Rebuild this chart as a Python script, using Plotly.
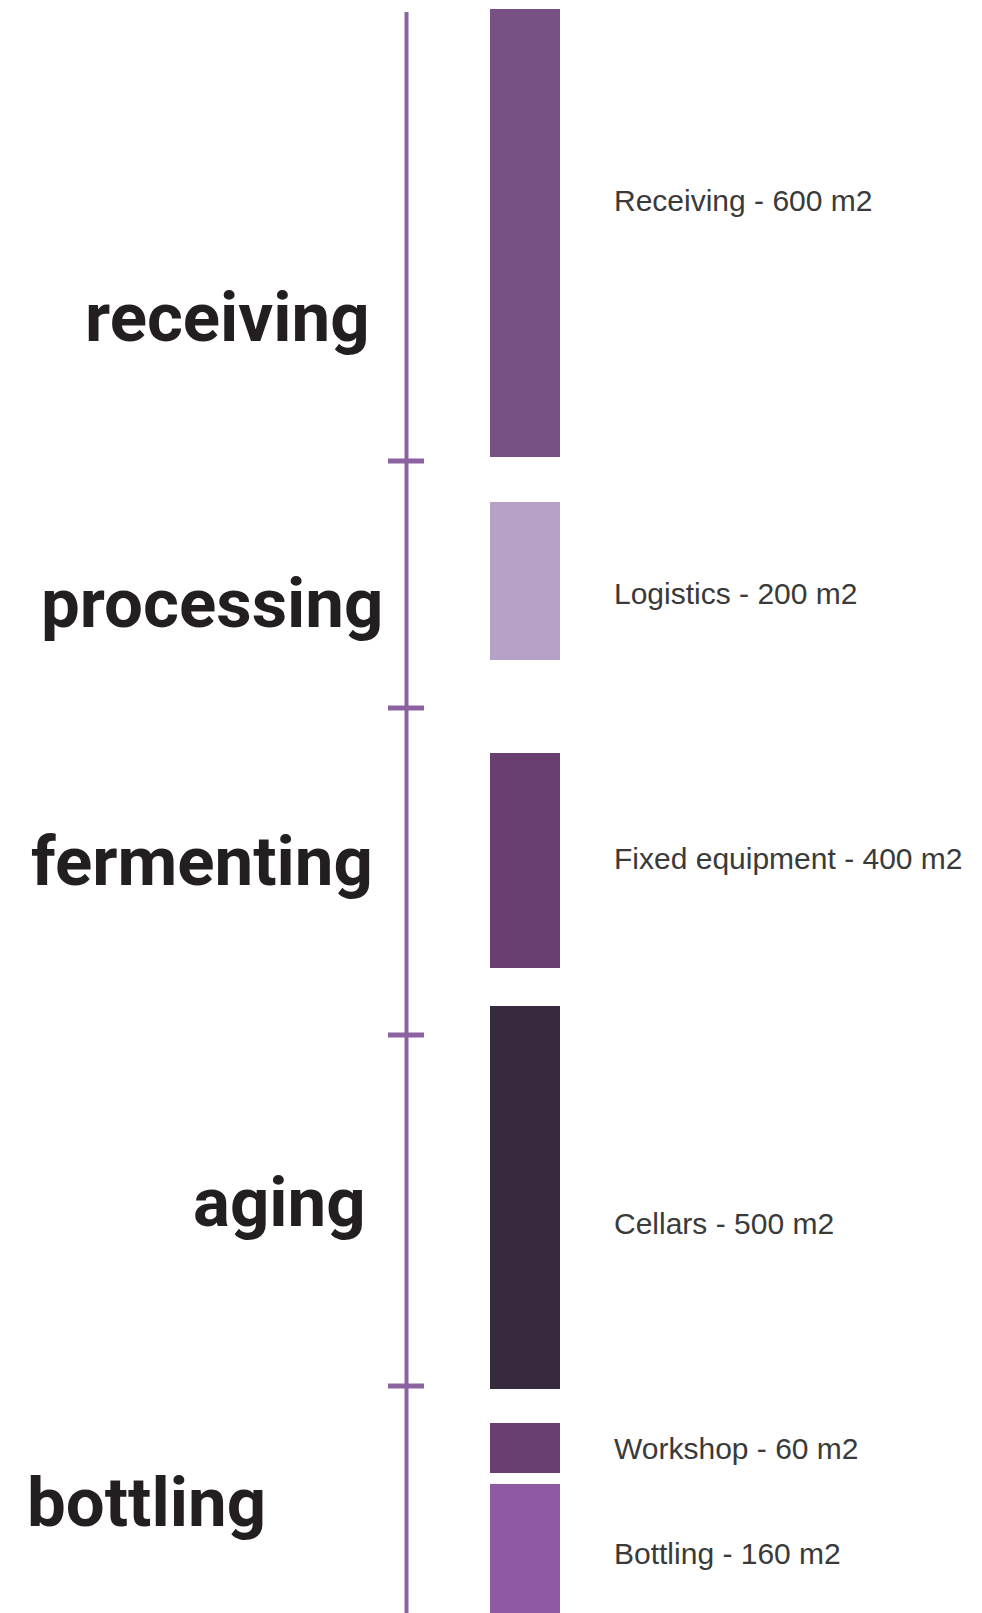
import plotly.graph_objects as go
import numpy as np

# ---- data ----
stages = ["receiving", "processing", "fermenting", "aging", "bottling"]
stage_lengths = [449, 247, 327, 351, 240]

areas = ["Receiving", "Logistics", "Fixed equipment", "Cellars", "Workshop", "Bottling"]
area_m2 = [600, 200, 400, 500, 60, 160]
bar_start = [9, 502, 753, 1006, 1423, 1484]
bar_length = [448, 158, 215, 383, 50, 140]

# ---- layout constants ----
W, H = 982, 1613
axis_start = 12
line_x = 406.5
tick_x0, tick_x1 = 388, 424
bar_x, bar_w = 525, 70
bar_colors = ["#775184", "#b8a1c7", "#673e6f", "#372a3e", "#673e6f", "#8f5aa3"]
line_color = "#8c62a0"

stage_label_pos = [  # (x, anchor, y)
    (372, "right", 317),
    (385, "right", 603),
    (375, "right", 861),
    (368, "right", 1202),
    (25, "left", 1502),
]
area_label_x = 612
area_label_y = [200, 593, 858, 1223, 1448, 1553]

big_font = "Roboto, Liberation Sans, sans-serif"
small_font = "Liberation Sans, Arial, sans-serif"

bounds = axis_start + np.cumsum([0] + stage_lengths)

fig = go.Figure()

# timeline axis line
fig.add_trace(go.Scatter(x=[line_x, line_x], y=[bounds[0], bounds[-1]], mode="lines",
                         line=dict(color=line_color, width=4), hoverinfo="skip", showlegend=False))
# stage boundary ticks
tx, ty = [], []
for b in bounds[1:-1]:
    tx += [tick_x0, tick_x1, None]
    ty += [b, b, None]
fig.add_trace(go.Scatter(x=tx, y=ty, mode="lines", line=dict(color=line_color, width=5),
                         hoverinfo="skip", showlegend=False))

# area bars
fig.add_trace(go.Bar(x=[bar_x] * len(areas), y=bar_length, base=bar_start, width=bar_w,
                     marker=dict(color=bar_colors, line=dict(width=0)),
                     hovertext=[f"{a} - {v} m2" for a, v in zip(areas, area_m2)],
                     hoverinfo="text", showlegend=False))

annotations = []
for name, (x, anc, y) in zip(stages, stage_label_pos):
    annotations.append(dict(x=x, y=y, xref="x", yref="y", text=name, showarrow=False,
                            xanchor=anc, yanchor="middle",
                            font=dict(family=big_font, size=69, color="#231f20", weight="bold")))
for a, v, y in zip(areas, area_m2, area_label_y):
    annotations.append(dict(x=area_label_x, y=y, xref="x", yref="y", text=f"{a} - {v} m2",
                            showarrow=False, xanchor="left", yanchor="middle",
                            font=dict(family=small_font, size=30, color="#3a3a3a")))

fig.update_layout(
    width=W, height=H, margin=dict(l=0, r=0, t=0, b=0),
    paper_bgcolor="white", plot_bgcolor="white",
    xaxis=dict(range=[0, W], visible=False, fixedrange=True),
    yaxis=dict(range=[H, 0], visible=False, fixedrange=True),
    annotations=annotations, bargap=0,
)
fig.write_html("out.html", config={"displayModeBar": False},
               post_script="document.body.style.margin='0px';document.body.style.overflow='hidden';")
